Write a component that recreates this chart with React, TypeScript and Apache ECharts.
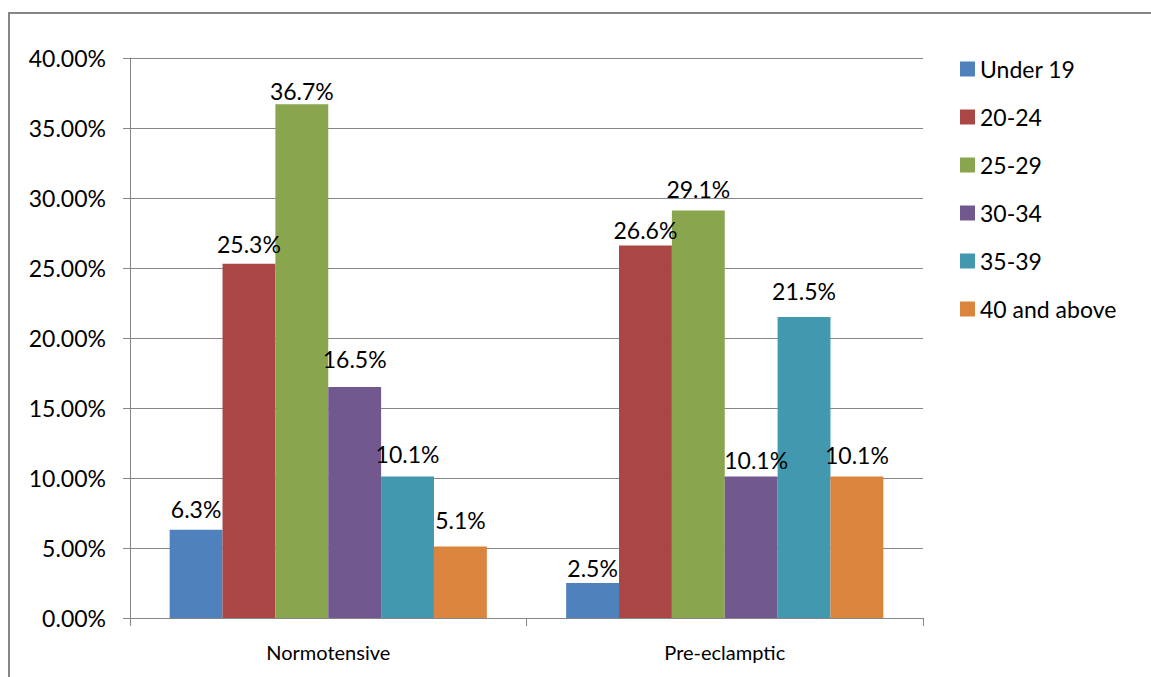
import React, { useEffect, useRef } from "react";
import * as echarts from "echarts";

const categories = ["Normotensive", "Pre-eclamptic"];
const seriesNames = ["Under 19", "20-24", "25-29", "30-34", "35-39", "40 and above"];
// values per age group: [Normotensive, Pre-eclamptic]
const under19 = [6.3, 2.5];
const age20to24 = [25.3, 26.6];
const age25to29 = [36.7, 29.1];
const age30to34 = [16.5, 10.1];
const age35to39 = [10.1, 21.5];
const age40plus = [5.1, 10.1];
const seriesValues = [under19, age20to24, age25to29, age30to34, age35to39, age40plus];

const colors = ["#4F81BD", "#AA4643", "#89A54E", "#71588F", "#4198AF", "#DB843D"];
// label distance above each bar (style), per series per category
const labelDistances = [
  [9, 4],
  [8, 4],
  [2, 10],
  [17, 5],
  [11, 15],
  [15, 10],
];
const labelOffsetX = [
  [0, 0],
  [0, 0],
  [0, 0],
  [0, 5],
  [0, 0],
  [0, 0],
];

const FONT = "Lato, 'Noto Sans', sans-serif";

export default function App() {
  const ref = useRef<HTMLDivElement>(null);
  useEffect(() => {
    document.body.style.margin = "0";
    const chart = echarts.init(ref.current!, null, { renderer: "svg" });
    const series = seriesNames.map((name, si) => ({
      name,
      type: "bar",
      barGap: "0%",
      barCategoryGap: "20%",
      itemStyle: { color: colors[si] },
      data: seriesValues[si].map((v, ci) => ({
        value: v,
        label: {
          distance: labelDistances[si][ci],
          offset: [labelOffsetX[si][ci], 0],
        },
      })),
      label: {
        show: true,
        position: "top",
        color: "#000",
        fontFamily: FONT,
        fontSize: 23,
        lineHeight: 23,
        formatter: (p: any) => p.value.toFixed(1) + "%",
      },
    }));
    chart.setOption({
      animation: false,
      color: colors,
      graphic: [
        {
          type: "rect",
          shape: { x: 9, y: 13, width: 1300, height: 800 },
          style: { fill: "none", stroke: "#868686", lineWidth: 2 },
          silent: true,
        },
      ],
      legend: {
        orient: "vertical",
        left: 960,
        top: 57,
        padding: 0,
        itemWidth: 15,
        itemHeight: 15,
        itemGap: 24,
        icon: "rect",
        textStyle: { fontFamily: FONT, fontSize: 23, lineHeight: 24, color: "#000" },
        data: seriesNames,
      },
      grid: { left: 130, right: 228, top: 58, bottom: 59, containLabel: false },
      xAxis: {
        type: "category",
        data: categories,
        axisLine: { lineStyle: { color: "#868686", width: 1 } },
        axisTick: { show: true, length: 8, lineStyle: { color: "#868686" } },
        axisLabel: { color: "#000", fontFamily: FONT, fontSize: 20, margin: 24 },
      },
      yAxis: {
        type: "value",
        min: 0,
        max: 40,
        interval: 5,
        axisLine: { show: true, lineStyle: { color: "#868686", width: 1 } },
        axisTick: { show: true, length: 7, lineStyle: { color: "#868686" } },
        splitLine: { lineStyle: { color: "#868686", width: 1 } },
        axisLabel: {
          color: "#000",
          fontFamily: FONT,
          fontSize: 23,
          margin: 24,
          formatter: (v: number) => v.toFixed(2) + "%",
        },
      },
      series,
    });
    return () => chart.dispose();
  }, []);
  return <div ref={ref} style={{ width: 1151, height: 677 }} />;
}
